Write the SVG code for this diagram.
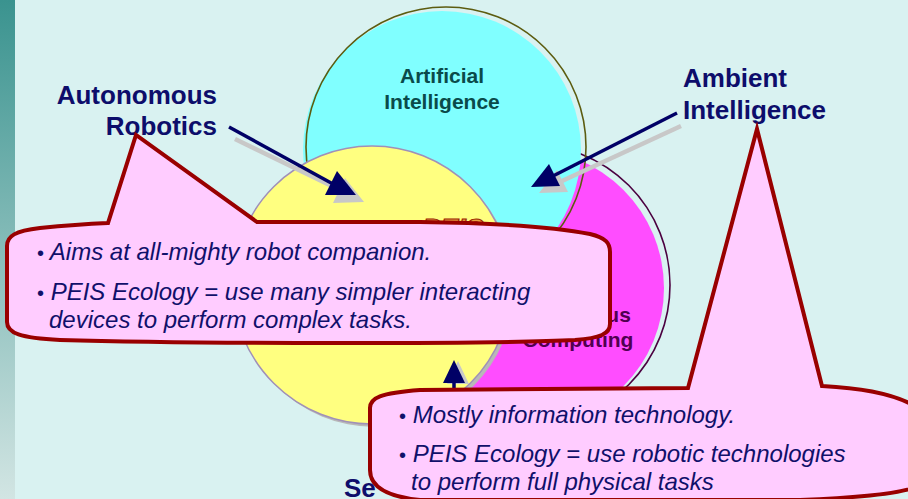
<svg xmlns="http://www.w3.org/2000/svg" width="908" height="499" viewBox="0 0 908 499">
<defs>
<linearGradient id="strip" x1="0" y1="0" x2="0" y2="1">
<stop offset="0" stop-color="#3A938F"/>
<stop offset="1" stop-color="#D2E5E3"/>
</linearGradient>
<style>
.lbl{font-family:"Liberation Sans",Arial,sans-serif;font-weight:bold;fill:#0D0D6B;font-size:26px}
.inl{font-family:"Liberation Sans",Arial,sans-serif;font-weight:bold;font-size:21px;text-anchor:middle}
.txt{font-family:"Liberation Sans",Arial,sans-serif;font-style:italic;fill:#10106A;font-size:24px}
.callout{fill:#FFCCFF;stroke:#990000;stroke-width:4;stroke-linejoin:miter}
.nav{stroke:#000066;stroke-width:3.5;fill:none}
.navh{fill:#000066}
.shd{stroke:#C8C8C8;stroke-width:4.5;fill:none}
.shdh{fill:#C8C8C8}
</style>
</defs>
<rect x="0" y="0" width="908" height="499" fill="#D9F2F1"/>
<rect x="0" y="0" width="15" height="499" fill="url(#strip)"/>

<g id="ubiquitous-computing">
<circle cx="525" cy="288" r="139" fill="#FF4DFF"/>
<circle cx="529" cy="285" r="141" fill="none" stroke="#4B0040" stroke-width="1.6"/>
</g>
<g id="artificial-intelligence">
<circle cx="442" cy="150" r="139" fill="#80FFFF"/>
<circle cx="446" cy="147" r="140" fill="none" stroke="#5C5C10" stroke-width="1.6"/>
<text class="inl" x="442" y="83" fill="#0A4A4A">Artificial</text>
<text class="inl" x="442" y="109" fill="#0A4A4A">Intelligence</text>
</g>
<g id="peis">
<circle cx="375" cy="288" r="139" fill="#B8B8B8"/>
<circle cx="372" cy="285" r="139" fill="#FFFF80" stroke="#A090B8" stroke-width="1.5"/>
<text x="453" y="238" font-family="'Liberation Sans',Arial,sans-serif" font-weight="bold" font-style="italic" font-size="27" text-anchor="middle" fill="#E8A040" stroke="#992200" stroke-width="1.2">PEIS</text>
</g>
<g id="ubiquitous-label">
<text class="inl" x="576" y="322" fill="#500050">Ubiquitous</text>
<text class="inl" x="578" y="347" fill="#500050">Computing</text>
</g>

<g id="connectors">
<line class="shd" x1="235" y1="139" x2="340" y2="190"/>
<polygon class="shdh" points="345,178 333,203 364,202"/>
<line class="nav" x1="229" y1="127" x2="333" y2="184"/>
<polygon class="navh" points="337,171 325,195 356,195"/>
<line class="shd" x1="681" y1="126" x2="562" y2="181"/>
<polygon class="shdh" points="539,193 557,170 568,192"/>
<line class="nav" x1="677" y1="113" x2="553" y2="176"/>
<polygon class="navh" points="531,187 549,164 560,186"/>
<polygon class="shdh" points="447,384 458,361 469,384"/>
<line class="nav" x1="454" y1="380" x2="454" y2="460"/>
<polygon class="navh" points="443,383 454,360 465,383"/>
</g>

<g id="autonomous-robotics">
<text class="lbl" x="217" y="104" text-anchor="end">Autonomous</text>
<text class="lbl" x="217" y="135" text-anchor="end">Robotics</text>
</g>
<g id="ambient-intelligence">
<text class="lbl" x="683" y="87">Ambient</text>
<text class="lbl" x="683" y="119">Intelligence</text>
</g>
<g id="sensor">
<text class="lbl" x="344" y="497">Se</text>
</g>

<g id="callout-robotics">
<path class="callout" d="M7,246 C7,236 15,231 40,228 C60,226 85,224 108,223 L136,135 L257,222 L420,222 C500,223 560,228 590,234 C606,238 610,243 610,252 L610,324 C610,334 600,338 575,340 C500,344 200,344 60,340 C20,338 7,333 7,322 Z"/>
<text class="txt" x="37" y="260"><tspan font-style="normal" font-size="20">•</tspan> Aims at all-mighty robot companion.</text>
<text class="txt" x="37" y="300"><tspan font-style="normal" font-size="20">•</tspan> PEIS Ecology = use many simpler interacting</text>
<text class="txt" x="49" y="328">devices to perform complex tasks.</text>
</g>
<g id="callout-ambient">
<path class="callout" d="M370,408 C370,398 380,393 420,390 L688,388 L757,129 L822,386 C860,388 900,394 920,410 L920,485 C905,494 850,498 800,500 L420,500 C390,497 370,488 370,470 Z"/>
<text class="txt" x="399" y="423"><tspan font-style="normal" font-size="20">•</tspan> Mostly information technology.</text>
<text class="txt" x="399" y="462"><tspan font-style="normal" font-size="20">•</tspan> PEIS Ecology = use robotic technologies</text>
<text class="txt" x="411" y="490">to perform full physical tasks</text>
</g>
</svg>
